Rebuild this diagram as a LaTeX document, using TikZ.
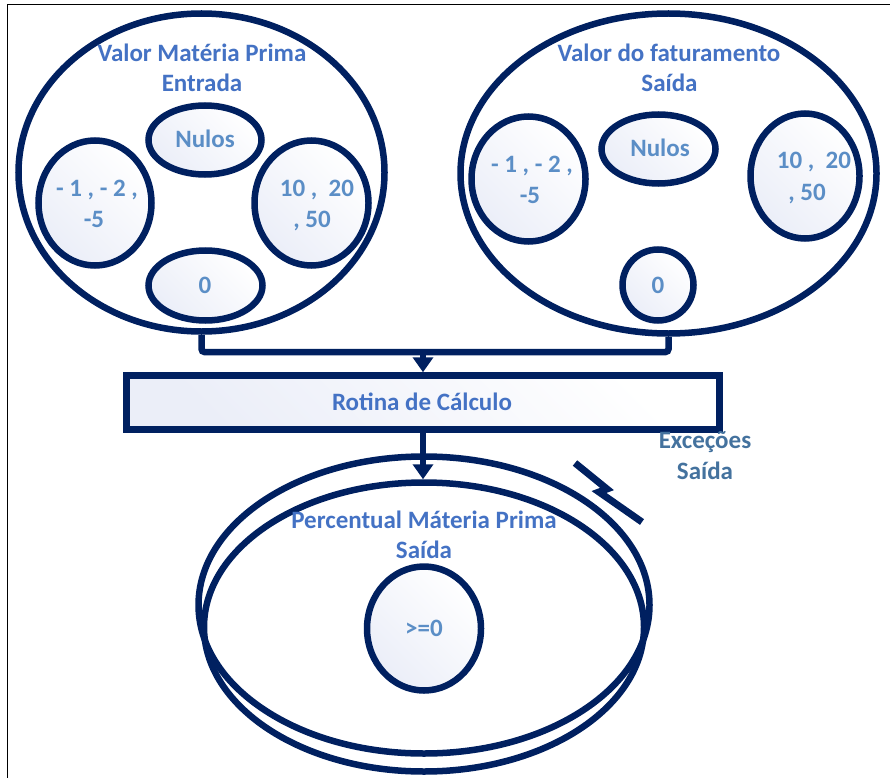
\documentclass[tikz,border=0pt]{standalone}
\usepackage{fontspec}
\setmainfont{Carlito}
\usetikzlibrary{shapes.geometric,arrows.meta}
\definecolor{navy}{HTML}{002060}
\definecolor{headblue}{HTML}{4472C4}
\definecolor{numblue}{HTML}{5B8EC6}
\definecolor{excblue}{HTML}{44729E}
\definecolor{paleblue}{HTML}{EBEEF8}
\begin{document}
\begin{tikzpicture}[x=1pt,y=-1pt,
  ring/.style={ellipse, draw=navy, line width=6.5pt, inner sep=0pt, fill=white},
  tint/.style={top color=paleblue, bottom color=white, shading angle=135},
  subring/.style={ring, tint},
  lbl/.style={anchor=base, inner sep=0pt, font=\fontsize{25}{31}\selectfont\bfseries},
  head/.style={lbl, text=headblue},
  num/.style={lbl, text=numblue},
  conn/.style={draw=navy, line width=6.5pt},
  flow/.style={conn, -{Triangle[width=20pt,length=15pt]}}]
\useasboundingbox (0,0) rectangle (890,778);

% frame edges
\coordinate (fa) at (7,4.5);
\coordinate (fb) at (890,4.5);
\coordinate (fc) at (7,778);
\draw[line width=1pt] (fb) -- (fa) -- (fc);

% input value group
\node[ring, minimum width=366pt, minimum height=318pt] (L) at (201.5,172.5) {};
\node[subring, minimum width=113pt, minimum height=69pt] (Lnul) at (205,140) {};
\node[subring, minimum width=113pt, minimum height=125pt] (Lneg) at (95,203) {};
\node[subring, minimum width=114pt, minimum height=125pt] (Lpos) at (311.5,203) {};
\node[subring, minimum width=114pt, minimum height=70pt] (Lzero) at (205.5,285.5) {};
\node[head] (Lt1) at (202,62) {Valor Matéria Prima};
\node[head] (Lt2) at (202,92) {Entrada};
\node[num] (Lnult) at (205,148) {Nulos};
\node[num] (Lneg1) at (97,196) {- 1 , - 2 ,};
\node[num] (Lneg2) at (94,227) {-5};
\node[num] (Lpos1) at (317,196) {10 ,\ \ 20};
\node[num] (Lpos2) at (312,227) {, 50};
\node[num] (Lzerot) at (205,293) {0};

% output value group
\node[ring, minimum width=416pt, minimum height=320pt] (R) at (668.5,173.5) {};
\node[subring, minimum width=114pt, minimum height=125pt] (Rneg) at (528.5,179) {};
\node[subring, minimum width=114pt, minimum height=69pt] (Rnul) at (658.5,149) {};
\node[subring, minimum width=109pt, minimum height=125pt] (Rpos) at (805,176) {};
\node[subring, minimum width=71pt, minimum height=71pt] (Rzero) at (658,285) {};
\node[head] (Rt1) at (669,62) {Valor do faturamento};
\node[head] (Rt2) at (669.5,92) {Saída};
\node[num] (Rneg1) at (532,172) {- 1 , - 2 ,};
\node[num] (Rneg2) at (530,203) {-5};
\node[num] (Rnult) at (660,157) {Nulos};
\node[num] (Rpos1) at (814,168) {10 ,\ \ 20};
\node[num] (Rpos2) at (807,200) {, 50};
\node[num] (Rzerot) at (658,293) {0};

% calculation routine
\node[draw=navy, line width=6.5pt, inner sep=0pt, minimum width=593pt, minimum height=54pt,
      tint] (calc) at (423,402.5) {};
\node[head] (calct) at (422,410) {Rotina de Cálculo};

% result group
\node[ring, fill=none, minimum width=451pt, minimum height=297pt] (A) at (424,605) {};
\node[ring, fill=none, minimum width=440pt, minimum height=289pt] (B) at (424,627) {};
\node[subring, minimum width=114pt, minimum height=124pt] (ge) at (424,628.5) {};
\node[head] (Bt1) at (424,528) {Percentual Máteria Prima};
\node[head] (Bt2) at (424,558) {Saída};
\node[num] (get) at (424,636) {>=0};

% exceptions
\node[lbl, text=excblue] (ex1) at (705,448) {Exceções};
\node[lbl, text=excblue] (ex2) at (705,479) {Saída};
\coordinate (b1) at (575,463);
\coordinate (b2) at (607,489);
\coordinate (b3) at (599,492);
\coordinate (b4) at (642,522);
\draw[conn, line width=7pt, line join=miter] (b1) -- (b2) -- (b3) -- (b4);

% connectors
\coordinate (J) at (423,352);
\draw[conn, rounded corners=3pt] (L.south) |- (J) -| (R.south);
\draw[flow] (J) -- (calc.north);
\draw[flow] (calc.south) -- (calc.south |- B.north);
\end{tikzpicture}
\end{document}
